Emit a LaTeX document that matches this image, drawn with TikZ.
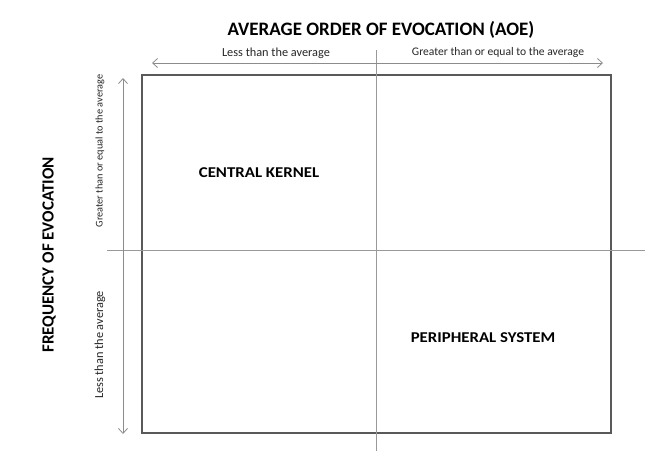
\documentclass[tikz,border=0pt]{standalone}
\usepackage{fontspec}
\setmainfont{Carlito}
\usetikzlibrary{arrows.meta}
\begin{document}
\begin{tikzpicture}[x=1pt,y=-1pt,
  axisline/.style={draw=black!40,line width=0.9pt},
  dblarrow/.style={draw=black!45,line width=0.8pt,{Straight Barb[length=5pt,width=9pt]}-{Straight Barb[length=5pt,width=9pt]}},
  smalllabel/.style={inner sep=0pt,text=black!85},
  biglabel/.style={inner sep=0pt},
  quadlabel/.style={font=\bfseries\fontsize{15}{17}\selectfont,inner sep=0pt,xscale=1.12}]
\useasboundingbox (0,0) rectangle (665,451);
% box
\node[draw=black!65,line width=1.8pt,minimum width=469pt,minimum height=358pt,inner sep=0pt] (box) at (376.5,254) {};
% axes
\coordinate (vt) at (376,50);
\coordinate (vb) at (376,451);
\coordinate (hl) at (107,250);
\coordinate (hr) at (645,250);
\draw[axisline] (vt) -- (vb);
\draw[axisline] (hl) -- (hr);
% arrows
\coordinate (ta) at (152,63);
\coordinate (tb) at (603,63);
\draw[dblarrow] (ta) -- (tb);
\coordinate (la) at (123,78);
\coordinate (lb) at (123,434);
\draw[dblarrow] (la) -- (lb);
% labels
\node[biglabel,font=\bfseries\fontsize{19}{21}\selectfont] (title) at (381,30) {AVERAGE ORDER OF EVOCATION (AOE)};
\node[biglabel,font=\bfseries\fontsize{17}{19}\selectfont,rotate=90] (freq) at (49,255) {FREQUENCY OF EVOCATION};
\node[smalllabel,font=\fontsize{12.3}{14}\selectfont] (less) at (276,53) {Less than the average};
\node[smalllabel,font=\fontsize{11.6}{13}\selectfont] (greater) at (498,52) {Greater than or equal to the average};
\node[smalllabel,font=\fontsize{10.3}{12}\selectfont,rotate=90] (vgreater) at (100,151) {Greater than or equal to the average};
\node[smalllabel,font=\fontsize{12.3}{14}\selectfont,rotate=90] (vless) at (100,345) {Less than the average};
\node[quadlabel] (central) at (259,173) {CENTRAL KERNEL};
\node[quadlabel] (peri) at (483,338) {PERIPHERAL SYSTEM};
\end{tikzpicture}
\end{document}
